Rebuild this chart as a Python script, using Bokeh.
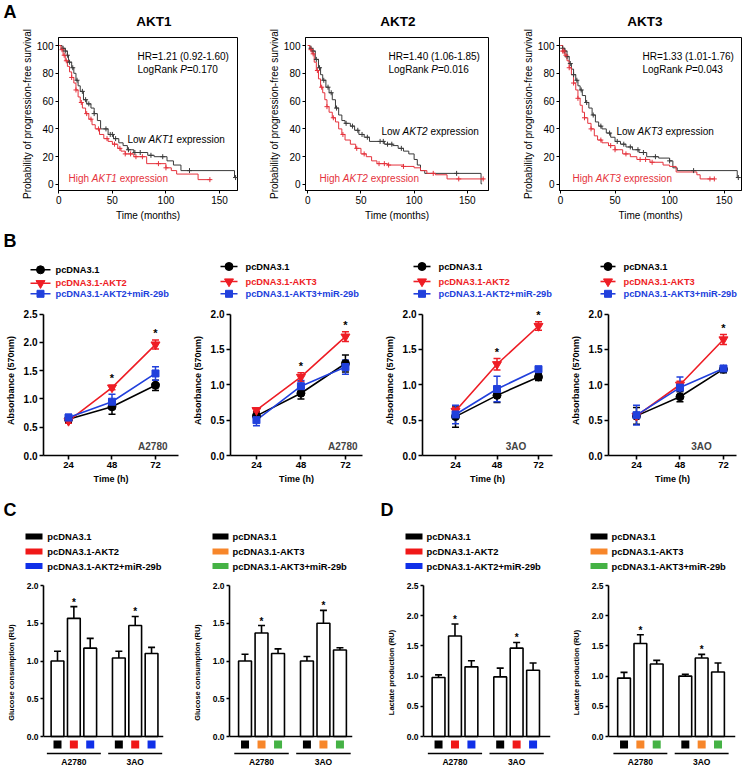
import numpy as np
from bokeh.plotting import figure
from bokeh.layouts import row, column
from bokeh.models import (Range1d, Label, Whisker, TeeHead, ColumnDataSource,
                          FixedTicker, NumeralTickFormatter, Span)
from bokeh.embed import file_html
from bokeh.resources import INLINE
from bokeh.core.properties import value

FONT = "Liberation Sans"
KM_BLACK = "#3a3a3a"
KM_RED = "#e5323c"
RED = "#ee1d25"
BLUE = "#2140dc"
KEY_RED = "#f01818"
KEY_BLUE = "#1030e8"
ORANGE = "#f7862a"
GREEN = "#45b245"

# ---------------- Panel A: Kaplan-Meier data (months, % progression-free) ----------------
akt1_low_t = [0, 3, 6, 8, 9, 12, 14, 16, 18, 20, 23, 26, 30, 33, 36, 39, 46, 51, 56, 60, 64, 70, 83, 89, 101, 107, 114, 164, 166]
akt1_low_s = [100, 98, 96, 93, 88, 84, 80, 75, 71, 67, 61, 58, 55, 51, 46, 40, 36, 33, 30, 28, 25, 23, 21, 20, 17, 14, 10, 5, 5]
akt1_low_c = [4, 6, 8, 10, 13, 17, 22, 25, 28, 33, 44, 48, 50, 53, 65, 71, 76, 86, 97, 122, 165]
akt1_high_t = [0, 2, 4, 6, 8, 10, 12, 14, 16, 18, 20, 22, 25, 28, 31, 34, 38, 42, 46, 50, 55, 58, 62, 70, 82, 100, 105, 110, 130, 142]
akt1_high_s = [100, 97, 93, 89, 85, 81, 77, 73, 68, 63, 59, 55, 51, 47, 43, 40, 36, 33, 31, 29, 26, 24, 22, 20, 15, 12, 10, 7.5, 3.5, 3.5]
akt1_high_c = [3, 5, 7, 12, 16, 21, 26, 30, 37, 45, 52, 57, 62, 67, 72, 78, 93, 100, 141]

akt2_low_t = [0, 2, 4, 7, 10, 12, 14, 17, 20, 23, 26, 29, 32, 35, 40, 44, 48, 53, 58, 72, 80, 85, 90, 95, 100, 103, 106, 110, 163, 164]
akt2_low_s = [100, 98, 96, 90, 84, 79, 75, 70, 66, 61, 55, 50, 46, 44, 42, 39, 36, 34, 31, 29, 28, 26, 24, 22, 18, 14, 10, 8, 0.5, 0.5]
akt2_low_c = [3, 5, 8, 11, 15, 19, 22, 27, 36, 42, 47, 51, 56, 68, 71, 75, 79, 88, 140]
akt2_high_t = [0, 2, 4, 6, 8, 10, 12, 14, 16, 18, 20, 23, 26, 29, 32, 35, 40, 45, 50, 55, 60, 65, 75, 90, 100, 106, 112, 120, 131, 166]
akt2_high_s = [100, 97, 94, 88, 82, 76, 70, 66, 61, 56, 52, 48, 45, 40, 36, 32, 29, 26, 22, 20, 17, 15, 14, 13, 12, 10, 8, 7, 4, 4]
akt2_high_c = [3, 5, 9, 13, 18, 24, 33, 46, 53, 67, 72, 76, 90, 118, 142, 165]

akt3_low_t = [0, 2, 4, 6, 8, 10, 12, 14, 16, 18, 20, 23, 26, 29, 32, 35, 38, 42, 46, 50, 55, 60, 66, 72, 79, 90, 100, 103, 107, 162, 164]
akt3_low_s = [100, 98, 96, 92, 87, 83, 79, 75, 71, 68, 64, 59, 55, 50, 45, 42, 40, 37, 34, 31, 29, 27, 25, 23, 20, 19, 17, 12, 10, 5, 5]
akt3_low_c = [2, 4, 6, 9, 12, 15, 19, 24, 30, 37, 45, 52, 58, 64, 71, 76, 87, 100, 122, 163]
akt3_high_t = [0, 2, 4, 6, 8, 10, 12, 14, 16, 18, 20, 22, 25, 28, 31, 34, 38, 44, 50, 57, 64, 70, 82, 94, 100, 106, 125, 128, 141]
akt3_high_s = [100, 96, 93, 89, 84, 79, 73, 68, 62, 57, 52, 48, 44, 40, 35, 32, 30, 28, 25, 22, 20, 18, 16, 14, 13, 9, 7, 4, 4]
akt3_high_c = [2, 3, 5, 8, 12, 16, 22, 28, 37, 46, 50, 60, 73, 78, 84, 137, 141]

km_genes = ["AKT1", "AKT2", "AKT3"]
km_hr = ["1.21 (0.92-1.60)", "1.40 (1.06-1.85)", "1.33 (1.01-1.76)"]
km_p = ["0.170", "0.016", "0.043"]
km_xticks = [0, 50, 100, 150]
km_yticks = [0, 20, 40, 60, 80, 100]

# ---------------- Panel B: MTT absorbance (570nm) ----------------
b_time = [24, 48, 72]
b1_ctrl = [0.64, 0.86, 1.24]; b1_ctrl_err = [0.05, 0.13, 0.09]
b1_akt = [0.61, 1.20, 1.96];  b1_akt_err = [0.04, 0.04, 0.08]
b1_mir = [0.67, 0.95, 1.45];  b1_mir_err = [0.06, 0.13, 0.12]
b2_ctrl = [0.56, 0.88, 1.30]; b2_ctrl_err = [0.06, 0.08, 0.12]
b2_akt = [0.64, 1.11, 1.68];  b2_akt_err = [0.03, 0.06, 0.07]
b2_mir = [0.50, 0.98, 1.25];  b2_mir_err = [0.08, 0.08, 0.10]
b3_ctrl = [0.55, 0.85, 1.11]; b3_ctrl_err = [0.15, 0.10, 0.05]
b3_akt = [0.63, 1.29, 1.83];  b3_akt_err = [0.05, 0.08, 0.06]
b3_mir = [0.58, 0.94, 1.22];  b3_mir_err = [0.13, 0.18, 0.03]
b4_ctrl = [0.56, 0.83, 1.22]; b4_ctrl_err = [0.12, 0.07, 0.05]
b4_akt = [0.56, 1.00, 1.64];  b4_akt_err = [0.04, 0.05, 0.07]
b4_mir = [0.57, 0.96, 1.23];  b4_mir_err = [0.14, 0.15, 0.03]
b_genes = ["AKT2", "AKT3", "AKT2", "AKT3"]

# ---------------- Panels C/D: relative units, groups A2780 then 3AO ----------------
cells = ["A2780", "3AO"]
c1_vals = [1.00, 1.565, 1.17, 1.04, 1.47, 1.10]; c1_err = [0.13, 0.155, 0.13, 0.09, 0.12, 0.08]
c2_vals = [1.00, 1.37, 1.10, 1.00, 1.50, 1.145]; c2_err = [0.09, 0.10, 0.06, 0.06, 0.17, 0.03]
d1_vals = [0.976, 1.663, 1.153, 0.987, 1.463, 1.097]; d1_err = [0.045, 0.20, 0.10, 0.145, 0.094, 0.12]
d2_vals = [0.967, 1.539, 1.20, 1.00, 1.30, 1.067]; d2_err = [0.095, 0.145, 0.06, 0.03, 0.06, 0.15]
cd_genes = ["AKT2", "AKT3", "AKT2", "AKT3"]

# ---------------- helpers ----------------
ARIAL = {' ': 278, 'A': 667, 'K': 667, 'T': 611, 'L': 556, 'H': 722, 'R': 722, 'P': 667,
         'o': 556, 'w': 722, 'e': 556, 'x': 500, 'p': 556, 'r': 333, 's': 500, 'i': 222,
         'n': 556, 'g': 556, 'h': 556, 'a': 556, 'k': 500, '=': 584, '.': 278, '(': 333,
         ')': 333, '-': 333}
for _d in "0123456789":
    ARIAL[_d] = 556


def text_w(s, size):
    return sum(ARIAL.get(ch, 556) for ch in s) * size / 1000.0


def rich_label(p, x, y, parts, color, size):
    for txt, style in parts:
        lead = len(txt) - len(txt.lstrip(" "))
        p.add_layout(Label(x=x + text_w(" " * lead, size), y=y, x_units="screen", y_units="screen",
                           text=txt.strip(), text_font=FONT, text_font_size=f"{size}px",
                           text_font_style=style, text_color=color, text_align="left",
                           text_baseline="alphabetic"))
        x += text_w(txt, size)


def base_fig(w, h, left, right, top, bottom, xr, yr, x_axis=True):
    kw = {}
    if not x_axis:
        kw["x_axis_location"] = None
    p = figure(width=w, height=h, x_range=Range1d(*xr), y_range=Range1d(*yr),
               output_backend="svg", toolbar_location=None, title=None,
               min_border_left=left, min_border_right=right,
               min_border_top=top, min_border_bottom=bottom, **kw)
    p.grid.visible = False
    p.outline_line_color = None
    p.background_fill_color = "white"
    p.border_fill_color = "white"
    return p


def header_fig(w, y0, y1):
    # pixel-mapped strip (y grows downward) for panel letters, titles and legends
    p = figure(width=w, height=y1 - y0, x_range=Range1d(0, w), y_range=Range1d(y1, y0),
               output_backend="svg", toolbar_location=None, title=None,
               x_axis_location=None, y_axis_location=None,
               min_border_left=0, min_border_right=0, min_border_top=0, min_border_bottom=0)
    p.grid.visible = False
    p.outline_line_color = None
    p.background_fill_color = "white"
    p.border_fill_color = "white"
    return p


def htext(p, xs, ys, texts, size, bold=True, color="black", align="left"):
    # ys are the vertical centres of the capitals
    p.text(x=xs, y=ys, text=texts, text_font=value(FONT), text_font_size=f"{size}px",
           text_font_style="bold" if bold else "normal", text_color=color,
           text_align=align, text_baseline="middle")


def style_axes(axes, tick_size, tick_bold, label_size, label_bold, lw, tick_out, standoff, label_standoff):
    for ax in axes:
        ax.axis_line_color = "black"
        ax.axis_line_width = lw
        ax.major_tick_line_color = "black"
        ax.major_tick_line_width = lw
        ax.major_tick_out = tick_out
        ax.major_tick_in = 0
        ax.minor_tick_line_color = None
        ax.major_label_text_font = FONT
        ax.major_label_text_font_size = f"{tick_size}px"
        ax.major_label_text_font_style = "bold" if tick_bold else "normal"
        ax.major_label_text_color = "black"
        ax.major_label_standoff = standoff
        ax.axis_label_text_font = FONT
        ax.axis_label_text_font_size = f"{label_size}px"
        ax.axis_label_text_font_style = "bold" if label_bold else "normal"
        ax.axis_label_text_color = "black"
        ax.axis_label_standoff = label_standoff


def step_at(t, s, c):
    idx = np.searchsorted(np.array(t), np.array(c), side="right") - 1
    return list(np.array(s, dtype=float)[idx])


W = 744

# ---------------- Panel A ----------------
hA = header_fig(W, 0, 28)
htext(hA, [3], [11.5], ["A"], 18)
htext(hA, [153.5, 397.5, 644.5], [21] * 3, km_genes, 13.5, align="center")


def km_panel(gene, lt, ls, lc, ht, hs, hc, hr, pval, w, left, right, xr, hr_x, low_xy, high_xy):
    H, TOP, BOT = 204, 9, 42
    p = base_fig(w, H, left, right, TOP, BOT, xr, (-4.32, 105.76))
    p.outline_line_color = "black"
    p.outline_line_width = 1
    p.step(lt, ls, mode="after", line_color=KM_BLACK, line_width=1)
    p.step(ht, hs, mode="after", line_color=KM_RED, line_width=1)
    p.scatter(lc, step_at(lt, ls, lc), marker="cross", size=5, line_color=KM_BLACK, line_width=1)
    p.scatter(hc, step_at(ht, hs, hc), marker="cross", size=5, line_color=KM_RED, line_width=1)
    p.xaxis.ticker = FixedTicker(ticks=km_xticks)
    p.yaxis.ticker = FixedTicker(ticks=km_yticks)
    p.xaxis.axis_label = "Time (months)"
    p.yaxis.axis_label = "Probability of progression-free survival"
    style_axes(p.xaxis + p.yaxis, 10, False, 10, False, 1, 3, 2, 1)
    p.xaxis.axis_label_standoff = 3
    rich_label(p, hr_x, 134.4, [("HR=" + hr, "normal")], "black", 10)
    rich_label(p, hr_x, 121.4, [("LogRank ", "normal"), ("P", "italic"), ("=" + pval, "normal")], "black", 10)
    rich_label(p, low_xy[0], low_xy[1], [("Low ", "normal"), (gene, "italic"), (" expression", "normal")], "black", 10)
    rich_label(p, high_xy[0], high_xy[1], [("High ", "normal"), (gene, "italic"), (" expression", "normal")], KM_RED, 10)
    return p


a1 = km_panel(km_genes[0], akt1_low_t, akt1_low_s, akt1_low_c, akt1_high_t, akt1_high_s, akt1_high_c,
              km_hr[0], km_p[0], 248, 58, 11, (-0.3, 166.8), 79, (69, 50.7), (10, 12.4))
a2 = km_panel(km_genes[1], akt2_low_t, akt2_low_s, akt2_low_c, akt2_high_t, akt2_high_s, akt2_high_c,
              km_hr[1], km_p[1], 248, 57, 8, (-2.2, 170.0), 83, (76, 58.7), (14, 12.4))
a3 = km_panel(km_genes[2], akt3_low_t, akt3_low_s, akt3_low_c, akt3_high_t, akt3_high_s, akt3_high_c,
              km_hr[2], km_p[2], 248, 63, 3, (-0.9, 165.9), 83, (57, 58.7), (13, 12.4))

# ---------------- Panel B ----------------
B_STYLE = [("pcDNA3.1", "black", "circle", 8),
           ("pcDNA3.1-{g}", RED, "inverted_triangle", 9),
           ("pcDNA3.1-{g}+miR-29b", BLUE, "square", 7)]

hB = header_fig(W, 232, 305)
htext(hB, [3], [240.5], ["B"], 18)
b_leg_geom = [(30, 50, 55, [269.3, 282.7, 293.3]),
              (220, 237, 245, [266, 281, 293.3]),
              (413, 430, 438, [266, 281, 293.3]),
              (600, 615, 623, [266, 281, 293.3])]
for (lx0, lx1, tx, rows), g in zip(b_leg_geom, b_genes):
    for (name, color, marker, size), yy in zip(B_STYLE, rows):
        hB.segment(x0=[lx0], y0=[yy], x1=[lx1], y1=[yy], line_color=color, line_width=1.6)
        hB.scatter(x=[(lx0 + lx1) / 2], y=[yy], marker=marker, size=size, fill_color=color, line_color=color)
        htext(hB, [tx], [yy], [name.format(g=g)], 9.3, color=color)


def growth_panel(w, left, right, xr, ymax, series, star_times, cell, cell_align, cell_x):
    H, TOP, BOT = 195, 0, 45
    fh = H - TOP - BOT
    axis_px = 141.5
    p = base_fig(w, H, left, right, TOP, BOT, xr, (0, ymax * fh / axis_px))
    for vals, errs, (name, color, marker, size) in series:
        p.line(b_time, vals, line_color=color, line_width=1.6)
    for vals, errs, (name, color, marker, size) in series:
        src = ColumnDataSource(dict(x=b_time, lo=[v - e for v, e in zip(vals, errs)],
                                    hi=[v + e for v, e in zip(vals, errs)]))
        p.add_layout(Whisker(source=src, base="x", lower="lo", upper="hi",
                             line_color=color, line_width=1.5,
                             lower_head=TeeHead(size=7, line_color=color, line_width=1.5),
                             upper_head=TeeHead(size=7, line_color=color, line_width=1.5)))
    for vals, errs, (name, color, marker, size) in series:
        p.scatter(b_time, vals, marker=marker, size=size, fill_color=color, line_color=color)
    akt_vals, akt_errs = series[1][0], series[1][1]
    sy = [akt_vals[b_time.index(t)] + akt_errs[b_time.index(t)] for t in star_times]
    p.text(x=star_times, y=sy, text=["*"] * len(star_times), text_font=value(FONT),
           text_font_size="11px", text_font_style="bold", text_align="center",
           text_baseline="middle", y_offset=-7, text_color="black")
    ticks = [i * 0.5 for i in range(int(round(ymax / 0.5)) + 1)]
    p.yaxis.ticker = FixedTicker(ticks=ticks)
    p.yaxis.bounds = (0, ymax)
    p.yaxis.formatter = NumeralTickFormatter(format="0.0")
    p.xaxis.ticker = FixedTicker(ticks=b_time)
    p.xaxis.axis_label = "Time (h)"
    p.yaxis.axis_label = "Absorbance (570nm)"
    style_axes(p.xaxis + p.yaxis, 10, True, 9, True, 1.6, 4, 2, 5)
    p.xaxis.major_label_text_font_size = "9.5px"
    p.xaxis.axis_label_standoff = 3
    p.add_layout(Label(x=cell_x, y=9.5, x_units="screen", y_units="screen", text=cell,
                       text_font=FONT, text_font_size="10px", text_font_style="bold",
                       text_align=cell_align, text_baseline="alphabetic"))
    return p


def series_set(ctrl, ctrl_e, akt, akt_e, mir, mir_e):
    return [(ctrl, ctrl_e, B_STYLE[0]), (akt, akt_e, B_STYLE[1]), (mir, mir_e, B_STYLE[2])]


b1 = growth_panel(186, 43, 8, (10.2, 84.7), 2.5,
                  series_set(b1_ctrl, b1_ctrl_err, b1_akt, b1_akt_err, b1_mir, b1_mir_err),
                  [48, 72], cells[0], "right", 124)
b2 = growth_panel(186, 44, 10, (10.0, 81.2), 2.0,
                  series_set(b2_ctrl, b2_ctrl_err, b2_akt, b2_akt_err, b2_mir, b2_mir_err),
                  [48, 72], cells[0], "right", 127)
b3 = growth_panel(186, 50, 6, (4.9, 80.1), 2.0,
                  series_set(b3_ctrl, b3_ctrl_err, b3_akt, b3_akt_err, b3_mir, b3_mir_err),
                  [48, 72], cells[1], "center", 93.5)
b4 = growth_panel(186, 50, 8, (8.55, 79.2), 2.0,
                  series_set(b4_ctrl, b4_ctrl_err, b4_akt, b4_akt_err, b4_mir, b4_mir_err),
                  [72], cells[1], "center", 93)

# ---------------- Panels C/D ----------------
CD_NAMES = ["pcDNA3.1", "pcDNA3.1-{g}", "pcDNA3.1-{g}+miR-29b"]
CD_COLORS = {"AKT2": ["black", KEY_RED, KEY_BLUE], "AKT3": ["black", ORANGE, GREEN]}

hC = header_fig(W, 500, 578)
htext(hC, [3, 380], [509, 509], ["C", "D"], 18)
c_leg_geom = [(25, 42, 46.7), (212, 228, 232), (405, 422, 426), (590, 607, 611)]
c_rows = [536, 551, 565.5]
for (sx0, sx1, tx), g in zip(c_leg_geom, cd_genes):
    for name, color, yy in zip(CD_NAMES, CD_COLORS[g], c_rows):
        hC.rect(x=[(sx0 + sx1) / 2], y=[yy], width=sx1 - sx0, height=6, fill_color=color, line_color=None)
        htext(hC, [tx], [yy], [name.format(g=g)], 9.4)


def bar_panel(w, left, right, xr, ylabel, ymax, vals, errs, colors):
    H, TOP, BOT = 188, 0, 0
    fh = H - TOP - BOT
    zero_px, axis_px = 30.0, 151.0
    ppu = axis_px / ymax
    p = base_fig(w, H, left, right, TOP, BOT, xr,
                 (-zero_px / ppu, ymax + (fh - zero_px - axis_px) / ppu), x_axis=False)
    ncond = 3
    xs = [g * 3.75 + i + 1 for g in range(len(cells)) for i in range(ncond)]
    src = ColumnDataSource(dict(x=xs, top=vals, up=[v + e for v, e in zip(vals, errs)]))
    p.add_layout(Whisker(source=src, base="x", lower="top", upper="up", line_color="black",
                         line_width=1.6, lower_head=None,
                         upper_head=TeeHead(size=7, line_color="black", line_width=1.6)))
    p.vbar(x="x", top="top", bottom=0, width=0.78, source=src, fill_color="white",
           line_color="black", line_width=1.6)
    p.add_layout(Span(location=0, dimension="width", line_color="black", line_width=1.6))
    star_x = [xs[g * ncond + 1] for g in range(len(cells))]
    star_y = [vals[g * ncond + 1] + errs[g * ncond + 1] for g in range(len(cells))]
    p.text(x=star_x, y=star_y, text=["*"] * len(star_x), text_font=value(FONT),
           text_font_size="10px", text_font_style="bold", text_align="center",
           text_baseline="middle", y_offset=-4.5, text_color="black")
    # colour keys under bars, group lines and cell-line names
    p.scatter(xs, [-8 / ppu] * len(xs), marker="square", size=8, fill_color=colors * len(cells),
              line_color=None)
    gx0 = [xs[g * ncond] - 0.65 for g in range(len(cells))]
    gx1 = [xs[g * ncond + ncond - 1] + 0.65 for g in range(len(cells))]
    p.segment(x0=gx0, y0=[-17 / ppu] * len(cells), x1=gx1, y1=[-17 / ppu] * len(cells),
              line_color="black", line_width=1.5)
    p.text(x=star_x, y=[-25.5 / ppu] * len(cells), text=cells,
           text_font=value(FONT), text_font_size="8.5px", text_font_style="bold",
           text_align="center", text_baseline="middle", text_color="black")
    ticks = [i * 0.5 for i in range(int(round(ymax / 0.5)) + 1)]
    p.yaxis.ticker = FixedTicker(ticks=ticks)
    p.yaxis.bounds = (0, ymax)
    p.yaxis.formatter = NumeralTickFormatter(format="0.0")
    p.yaxis.axis_label = ylabel
    style_axes(p.yaxis, 8.5, True, 7.5, True, 1.6, 3, 2, 8)
    return p


c1 = bar_panel(186, 43, 23, (0.144, 7.48), "Glucose consumption (RU)", 2.0, c1_vals, c1_err,
               CD_COLORS[cd_genes[0]])
c2 = bar_panel(186, 43, 20, (0.06, 7.51), "Glucose consumption (RU)", 2.0, c2_vals, c2_err,
               CD_COLORS[cd_genes[1]])
d1 = bar_panel(186, 51, 8, (0.085, 7.81), "Lactate production (RU)", 2.5, d1_vals, d1_err,
               CD_COLORS[cd_genes[2]])
d2 = bar_panel(186, 50, 9, (0.05, 7.82), "Lactate production (RU)", 2.5, d2_vals, d2_err,
               CD_COLORS[cd_genes[3]])

layout = column(hA, row(a1, a2, a3), hB, row(b1, b2, b3, b4), hC, row(c1, c2, d1, d2))
open("out.html", "w").write(file_html(layout, INLINE))
